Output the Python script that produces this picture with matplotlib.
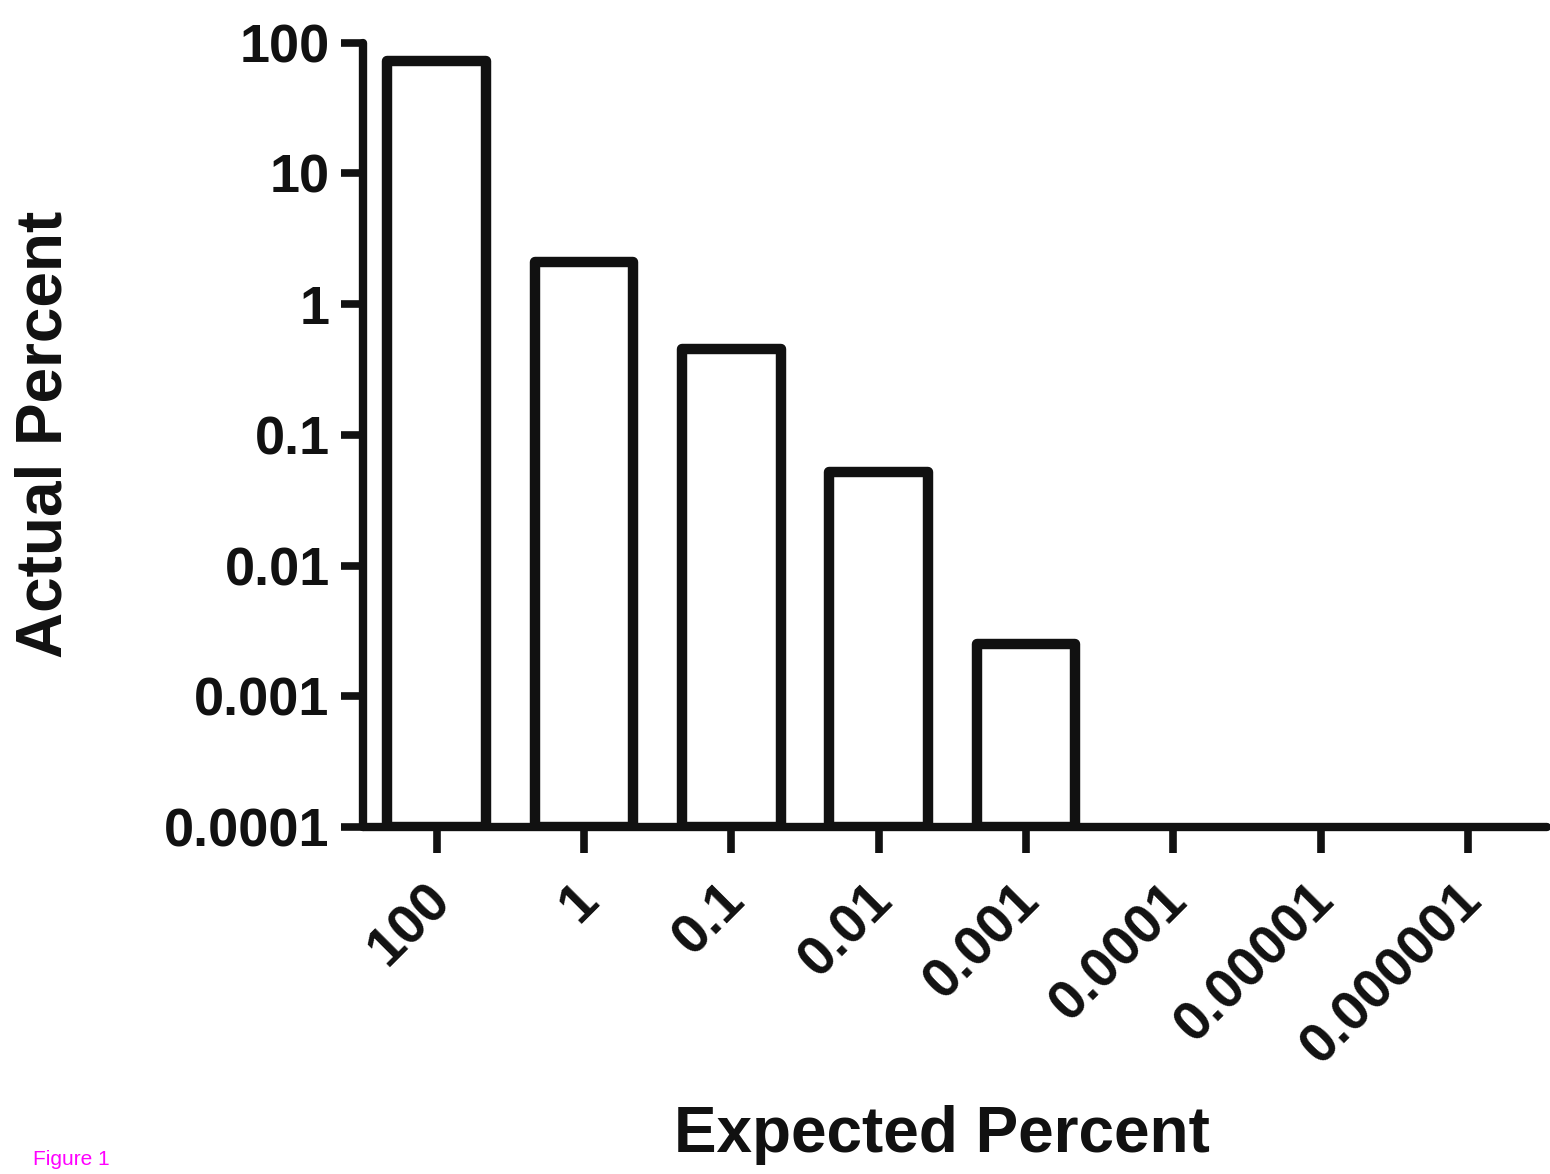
import numpy as np
import matplotlib
matplotlib.use('Agg')
import matplotlib.pyplot as plt
import matplotlib.transforms as mtransforms

plt.rcParams['font.family'] = ['Liberation Sans', 'DejaVu Sans']

# Expected vs actual percent (log scale)
expected_labels = ['100', '1', '0.1', '0.01', '0.001', '0.0001', '0.00001', '0.000001']
actual_percent = [72, 2.1, 0.45, 0.052, 0.0025, 0, 0, 0]
y_ticks = [0.0001, 0.001, 0.01, 0.1, 1, 10, 100]
y_ticklabels = ['0.0001', '0.001', '0.01', '0.1', '1', '10', '100']

ymin = 0.0001
x = np.arange(len(expected_labels))
vals = np.array(actual_percent, dtype=float)
mask = vals > 0

fig = plt.figure(figsize=(15.5, 11.74), dpi=100)
ax = fig.add_axes([363/1550, 1 - 827/1174, (1547 - 363)/1550, (827 - 42.7)/1174])

ax.set_yscale('log')
ax.bar(x[mask], vals[mask] - ymin, bottom=ymin, width=0.67,
       facecolor='white', edgecolor='#111111', linewidth=7.5, joinstyle='round')

ax.set_ylim(ymin, 100)
ax.set_xlim(-0.5, 7.536)
ax.set_yticks(y_ticks)
ax.set_yticklabels(y_ticklabels)
ax.minorticks_off()
ax.set_xticks(x)
ax.set_xticklabels(expected_labels, rotation=45, ha='right', va='center',
                   rotation_mode='anchor')

for s in ['top', 'right']:
    ax.spines[s].set_visible(False)
for s in ['left', 'bottom']:
    ax.spines[s].set_linewidth(6)
    ax.spines[s].set_color('#111111')
    ax.spines[s].set_capstyle('round')

ax.tick_params(axis='y', direction='out', length=16, width=5.5, color='#111111',
               labelsize=39, pad=8)
ax.tick_params(axis='x', direction='out', length=19, width=5.5, color='#111111',
               labelsize=40, pad=28)
for lab in ax.get_xticklabels() + ax.get_yticklabels():
    lab.set_fontweight('bold')
    lab.set_color('#111111')

# nudge rotated x labels slightly right
shift = mtransforms.ScaledTranslation(6/100, 0, fig.dpi_scale_trans)
for lab in ax.get_xticklabels():
    lab.set_transform(lab.get_transform() + shift)

ax.set_ylabel('Actual Percent', fontsize=46, fontweight='bold', color='#111111', va='center')
ax.yaxis.set_label_coords((45 - 363)/1184, 0.5)
ax.set_xlabel('Expected Percent', fontsize=46, fontweight='bold', color='#111111', va='center')
ax.xaxis.set_label_coords((942 - 363)/1184, (827 - 1135)/784.0)

fig.text(33/1550, 1 - 1165/1174, 'Figure 1', color='#ff00ff', fontsize=15, ha='left', va='baseline')

plt.savefig('out.png', dpi=100)
